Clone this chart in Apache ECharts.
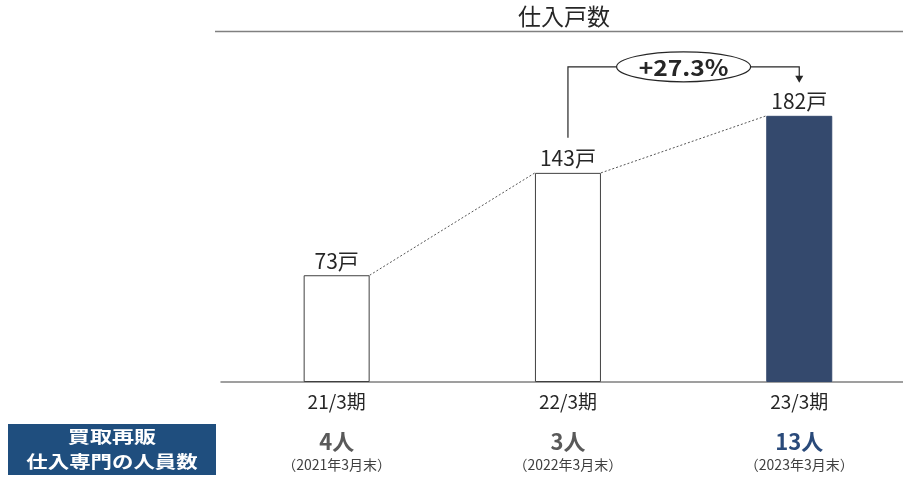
<!DOCTYPE html>
<html>
<head>
<meta charset="utf-8">
<script src="https://cdn.jsdelivr.net/npm/echarts@6/dist/echarts.min.js"></script>
<style>html,body{margin:0;padding:0;background:#fff;}#c{width:903px;height:480px;}</style>
</head>
<body>
<div id="c"></div>
<script>
const chartTitle = '仕入戸数';
const categories = ['21/3期', '22/3期', '23/3期'];
const units = [73, 143, 182];
const unitSuffix = '戸';
const staffCounts = ['4人', '3人', '13人'];
const staffDates = ['（2021年3月末）', '（2022年3月末）', '（2023年3月末）'];
const staffHeader = ['買取再販', '仕入専門の人員数'];
const growthLabel = '+27.3%';

const FONT = '"Noto Sans CJK JP", "Noto Sans", sans-serif';
const BAR_W = 66;
const GRID_LEFT = 221;
const BAND = 231.3;
const X_MIN = -0.5;
const X_MAX = X_MIN + (903 - GRID_LEFT) / BAND;
const chart = echarts.init(document.getElementById('c'));

const connectorData = [];
for (let i = 0; i < units.length - 1; i++) connectorData.push([i, units[i], i + 1, units[i + 1]]);

const last = units.length - 1;
const prev = last - 1;
const isCat = v => Math.abs(v - Math.round(v)) < 1e-6 && Math.round(v) >= 0 && Math.round(v) < categories.length;

chart.setOption({
  animation: false,
  grid: { left: GRID_LEFT, right: 0, top: 31, bottom: 98, containLabel: false },
  xAxis: [
    {
      type: 'value', min: X_MIN, max: X_MAX, interval: 0.5,
      splitLine: { show: false },
      axisLine: { onZero: false, lineStyle: { color: '#808080', width: 1.5 } },
      axisTick: { show: false },
      axisLabel: {
        margin: 10, fontSize: 19, color: '#262626', fontFamily: FONT, showMinLabel: true, showMaxLabel: false,
        formatter: v => isCat(v) ? categories[Math.round(v)] : ''
      }
    },
    {
      type: 'value', min: X_MIN, max: X_MAX, interval: 0.5, position: 'bottom',
      splitLine: { show: false },
      axisLine: { show: false }, axisTick: { show: false },
      axisLabel: {
        margin: 47,
        fontFamily: FONT, showMaxLabel: false,
        formatter: v => {
          if (!isCat(v)) return '';
          const i = Math.round(v);
          return (i === last ? '{c|' : '{a|') + staffCounts[i] + '}\n{b|' + staffDates[i] + '}';
        },
        rich: {
          a: { fontSize: 22, fontWeight: 'bold', color: '#595959', lineHeight: 25, fontFamily: FONT },
          c: { fontSize: 22, fontWeight: 'bold', color: '#2a4a7a', lineHeight: 25, fontFamily: FONT },
          b: { fontSize: 14, color: '#404040', lineHeight: 22, fontFamily: FONT }
        }
      }
    }
  ],
  yAxis: { type: 'value', min: 0, max: 240, show: false, splitLine: { show: false } },
  graphic: [
    { type: 'text', left: 566 - 48, top: 5, style: { text: chartTitle, fontSize: 23, fill: '#262626', fontFamily: FONT } },
    { type: 'line', shape: { x1: 215, y1: 31.5, x2: 903, y2: 31.5 }, style: { stroke: '#808080', lineWidth: 1.5 } },
    { type: 'rect', shape: { x: 8, y: 424, width: 208, height: 51 }, style: { fill: '#1f4e7e' } },
    { type: 'text', x: 112, y: 437, scaleX: 1.3,
      style: { text: staffHeader[0], fontSize: 17, fontWeight: 'bold', fill: '#fff', align: 'center', verticalAlign: 'middle', fontFamily: FONT } },
    { type: 'text', x: 112, y: 462, scaleX: 1.26,
      style: { text: staffHeader[1], fontSize: 17, fontWeight: 'bold', fill: '#fff', align: 'center', verticalAlign: 'middle', fontFamily: FONT } }
  ],
  series: [
    {
      type: 'bar', barWidth: BAR_W,
      data: units.map((v, i) => ({
        value: [i, v],
        itemStyle: i === last
          ? { color: '#34496d', borderColor: '#34496d', borderWidth: 1 }
          : { color: '#ffffff', borderColor: '#404040', borderWidth: 1 }
      })),
      label: {
        show: true, position: 'top', distance: 4, fontSize: 21, color: '#262626', fontFamily: FONT,
        formatter: p => p.value[1] + unitSuffix
      }
    },
    {
      type: 'custom', silent: true, z: 5,
      data: connectorData,
      renderItem: (params, api) => {
        const p1 = api.coord([api.value(0), api.value(1)]);
        const p2 = api.coord([api.value(2), api.value(3)]);
        return {
          type: 'line',
          shape: { x1: p1[0] + BAR_W / 2, y1: p1[1], x2: p2[0] - BAR_W / 2, y2: p2[1] },
          style: { stroke: '#555', lineWidth: 1, lineDash: [2, 2] }
        };
      }
    },
    {
      type: 'custom', silent: true, z: 6,
      data: [[prev, units[prev], last, units[last]]],
      renderItem: (params, api) => {
        const p1 = api.coord([api.value(0), api.value(1)]);
        const p2 = api.coord([api.value(2), api.value(3)]);
        const by = p2[1] - 49;
        const cx = (p1[0] + p2[0]) / 2;
        const rx = 67, ry = 15;
        const tipY = p2[1] - 33;
        return {
          type: 'group',
          children: [
            { type: 'polyline', shape: { points: [[p1[0], p1[1] - 35], [p1[0], by], [cx - rx, by]] }, style: { stroke: '#262626', lineWidth: 1.2, fill: null } },
            { type: 'polyline', shape: { points: [[cx + rx, by], [p2[0], by], [p2[0], tipY - 6]] }, style: { stroke: '#262626', lineWidth: 1.2, fill: null } },
            { type: 'polygon', shape: { points: [[p2[0] - 4, tipY - 7], [p2[0] + 4, tipY - 7], [p2[0], tipY]] }, style: { fill: '#262626' } },
            { type: 'ellipse', shape: { cx: cx, cy: by, rx: rx, ry: ry }, style: { fill: '#fff', stroke: '#262626', lineWidth: 1.2 } },
            { type: 'text', x: cx, y: by + 1, scaleX: 1.12, style: { text: growthLabel, fontSize: 22, fontWeight: 'bold', fill: '#262626', align: 'center', verticalAlign: 'middle', fontFamily: FONT } }
          ]
        };
      }
    }
  ]
});
</script>
</body>
</html>
